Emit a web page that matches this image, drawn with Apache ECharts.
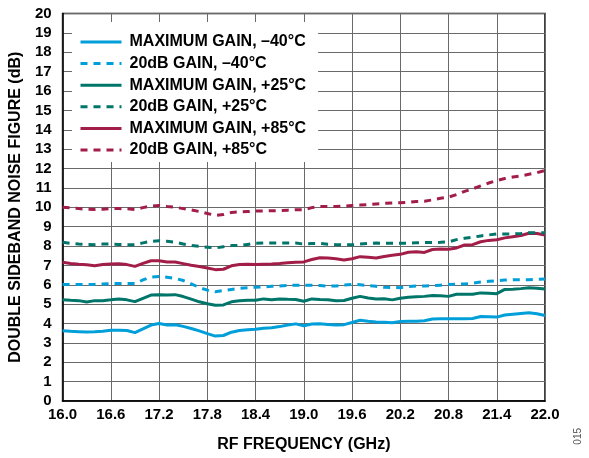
<!DOCTYPE html>
<html>
<head>
<meta charset="utf-8">
<script src="https://cdn.jsdelivr.net/npm/echarts@6/dist/echarts.min.js"></script>
<style>html,body{margin:0;padding:0;background:#fff;}#c{width:589px;height:458px;}</style>
</head>
<body>
<div id="c"></div>
<script>
var freq = [16.0,16.1,16.2,16.3,16.4,16.5,16.6,16.7,16.8,16.9,17.0,17.1,17.2,17.3,17.4,17.5,17.6,17.7,17.8,17.9,18.0,18.1,18.2,18.3,18.4,18.5,18.6,18.7,18.8,18.9,19.0,19.1,19.2,19.3,19.4,19.5,19.6,19.7,19.8,19.9,20.0,20.1,20.2,20.3,20.4,20.5,20.6,20.7,20.8,20.9,21.0,21.1,21.2,21.3,21.4,21.5,21.6,21.7,21.8,21.9,22.0];
var maxGainM40 = [3.63,3.60,3.58,3.56,3.57,3.60,3.65,3.65,3.64,3.53,3.72,3.92,4.00,3.92,3.94,3.85,3.74,3.62,3.48,3.35,3.38,3.55,3.64,3.68,3.70,3.76,3.78,3.84,3.92,3.98,3.88,3.97,3.99,3.95,3.92,3.94,4.05,4.17,4.12,4.08,4.06,4.04,4.10,4.11,4.12,4.14,4.23,4.24,4.24,4.25,4.25,4.26,4.36,4.35,4.33,4.44,4.48,4.52,4.56,4.50,4.41];
var gain20M40 = [6.01,6.01,6.01,6.01,6.02,6.04,6.06,6.06,6.06,6.06,6.25,6.40,6.43,6.39,6.33,6.22,6.05,5.86,5.72,5.64,5.70,5.76,5.82,5.85,5.87,5.89,5.92,5.94,5.96,5.98,5.97,5.97,5.96,5.93,5.93,5.98,6.02,6.00,5.96,5.92,5.87,5.86,5.85,5.90,5.94,5.94,5.95,5.98,6.01,6.03,6.04,6.08,6.14,6.18,6.21,6.24,6.26,6.26,6.26,6.28,6.30];
var maxGainP25 = [5.23,5.20,5.18,5.11,5.18,5.18,5.22,5.27,5.22,5.13,5.30,5.47,5.49,5.47,5.49,5.39,5.26,5.12,5.02,4.94,4.96,5.12,5.17,5.20,5.20,5.27,5.22,5.27,5.25,5.24,5.15,5.27,5.24,5.22,5.17,5.19,5.30,5.40,5.32,5.27,5.28,5.22,5.30,5.35,5.38,5.40,5.44,5.43,5.40,5.51,5.51,5.51,5.58,5.56,5.54,5.76,5.77,5.80,5.84,5.82,5.78];
var gain20P25 = [8.19,8.14,8.10,8.08,8.07,8.10,8.10,8.08,8.07,8.07,8.16,8.24,8.27,8.24,8.20,8.10,8.03,7.98,7.94,7.90,7.96,8.02,8.02,8.08,8.14,8.15,8.15,8.15,8.15,8.15,8.10,8.13,8.13,8.09,8.07,8.06,8.06,8.10,8.14,8.15,8.14,8.14,8.14,8.15,8.17,8.18,8.18,8.19,8.21,8.33,8.40,8.45,8.52,8.57,8.62,8.62,8.62,8.64,8.69,8.69,8.68];
var maxGainP85 = [7.16,7.10,7.06,7.03,6.98,7.04,7.07,7.08,7.04,6.95,7.10,7.24,7.24,7.17,7.17,7.09,7.01,6.94,6.86,6.78,6.80,6.98,7.05,7.06,7.05,7.06,7.07,7.10,7.14,7.16,7.18,7.30,7.39,7.38,7.34,7.28,7.34,7.45,7.42,7.38,7.46,7.52,7.57,7.68,7.70,7.67,7.82,7.84,7.83,7.90,8.05,8.07,8.22,8.29,8.32,8.42,8.48,8.54,8.66,8.65,8.57];
var gain20P85 = [10.00,9.97,9.93,9.90,9.88,9.90,9.93,9.93,9.92,9.88,9.98,10.06,10.09,10.04,10.00,9.93,9.86,9.78,9.68,9.58,9.62,9.73,9.76,9.78,9.80,9.81,9.82,9.83,9.85,9.87,9.87,9.98,10.04,10.04,10.04,10.06,10.09,10.11,10.13,10.17,10.20,10.22,10.23,10.26,10.30,10.31,10.38,10.46,10.52,10.65,10.82,10.95,11.10,11.25,11.38,11.48,11.56,11.62,11.70,11.78,11.90];
var seriesNames = ['MAXIMUM GAIN, \u201340\u00B0C','20dB GAIN, \u201340\u00B0C','MAXIMUM GAIN, +25\u00B0C','20dB GAIN, +25\u00B0C','MAXIMUM GAIN, +85\u00B0C','20dB GAIN, +85\u00B0C'];
var xTitle = 'RF FREQUENCY (GHz)';
var yTitle = 'DOUBLE SIDEBAND NOISE FIGURE (dB)';
var figId = '015';

var colors = ['#009FDA','#009FDA','#00756A','#00756A','#A21D48','#A21D48'];
var dashed = [false,true,false,true,false,true];
var vals = [maxGainM40,gain20M40,maxGainP25,gain20P25,maxGainP85,gain20P85];
function pairs(v){ return freq.map(function(f,i){ return [f, v[i]]; }); }
var FONT = '"Liberation Sans", Arial, Helvetica, sans-serif';

var series = vals.map(function(v,i){
  return {
    name: seriesNames[i], type: 'line', data: pairs(v), symbol: 'none', smooth: false,
    z: 3 + (5 - i),
    lineStyle: { color: colors[i], width: 3, type: dashed[i] ? [7,6] : 'solid' },
    itemStyle: { color: colors[i] }
  };
});

var chart = echarts.init(document.getElementById('c'), null, {renderer: 'canvas'});
chart.setOption({
  animation: false,
  backgroundColor: '#fff',
  textStyle: { fontFamily: FONT },
  grid: { left: 61, right: 44, top: 13.5, bottom: 56.5, show: true, borderColor: '#000', borderWidth: 1.5, backgroundColor: 'transparent' },
  legend: {
    orient: 'vertical', left: 72, top: 22,
    padding: [12, 12, 4, 7],
    backgroundColor: '#fff',
    itemWidth: 41, itemHeight: 14, itemGap: 5.6,
    itemStyle: { color: 'rgba(0,0,0,0)', borderWidth: 0, opacity: 0 },
    lineStyle: { width: 3 },
    textStyle: { fontFamily: FONT, fontSize: 16, fontWeight: 'bold', color: '#000', padding: [0,0,0,3] },
    data: seriesNames
  },
  xAxis: {
    type: 'value', min: 16, max: 22, interval: 0.6,
    axisLine: { show: true, lineStyle: { color: '#000', width: 1.5 } },
    axisTick: { show: false },
    splitLine: { show: true, lineStyle: { color: '#6a6a6a', width: 1 } },
    axisLabel: { fontFamily: FONT, fontSize: 15, fontWeight: 'bold', color: '#000', margin: 6,
      formatter: function(v){ return v.toFixed(1); } },
    name: xTitle, nameLocation: 'middle', nameGap: 36,
    nameTextStyle: { fontFamily: FONT, fontSize: 16, fontWeight: 'bold', color: '#000' }
  },
  yAxis: {
    type: 'value', min: 0, max: 20, interval: 1,
    axisLine: { show: true, lineStyle: { color: '#000', width: 1.5 } },
    axisTick: { show: false },
    splitLine: { show: true, lineStyle: { color: '#6a6a6a', width: 1 } },
    axisLabel: { fontFamily: FONT, fontSize: 15, fontWeight: 'bold', color: '#000', margin: 11 },
    name: yTitle, nameLocation: 'middle', nameGap: 36,
    nameTextStyle: { fontFamily: FONT, fontSize: 16, fontWeight: 'bold', color: '#000' }
  },
  graphic: [{
    type: 'text', left: 573, top: 428, rotation: Math.PI/2,
    style: { text: figId, fontFamily: FONT, fontSize: 10, fill: '#555' }
  }],
  series: series
});
</script>
</body>
</html>
